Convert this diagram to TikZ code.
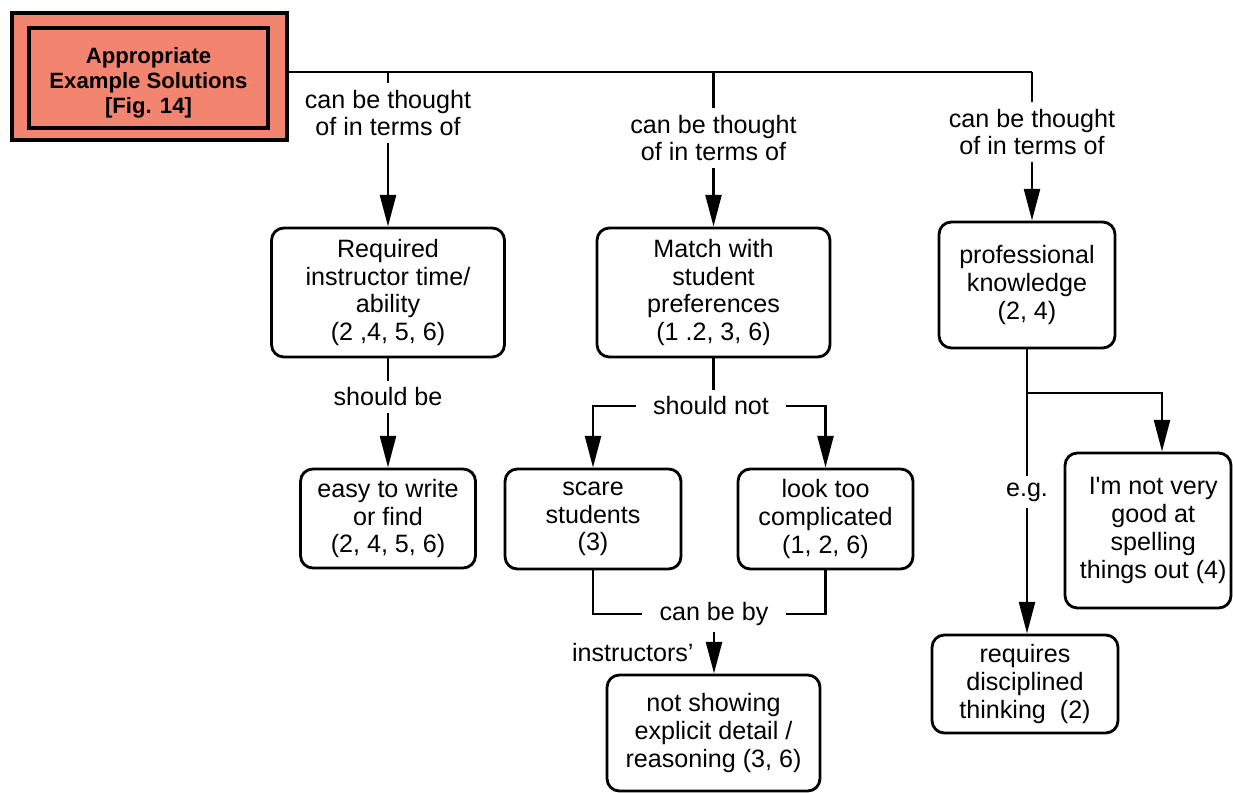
\documentclass[tikz,border=0pt]{standalone}
\usepackage{fontspec}
\setmainfont{Liberation Sans}
\usetikzlibrary{arrows.meta,calc}
\definecolor{salmon}{RGB}{242,132,112}
\begin{document}
\begin{tikzpicture}[x=0.02cm,y=-0.02cm,
  line width=1.6pt,
  box/.style={draw,rounded corners=7pt,align=center,inner sep=0pt,
    font=\fontsize{14.3}{15.8}\selectfont},
  lbl/.style={align=center,inner xsep=9pt,inner ysep=3pt,
    font=\fontsize{14.3}{15.8}\selectfont},
  arr/.style={-{Triangle[length=18pt,width=9pt]}}]
\useasboundingbox (0,0) rectangle (1233,793);

% top concept: double framed box
\node[draw,fill=salmon,line width=2.6pt,minimum width=5.5cm,minimum height=2.54cm,inner sep=0pt]
  (root) at (149.5,76.5) {};
\node[draw,line width=2.2pt,minimum width=4.78cm,minimum height=2.0cm,inner sep=0pt]
  (rootin) at (148.5,78) {};
\node[align=center,inner sep=0pt,font=\fontsize{12.6}{14.2}\selectfont\bfseries]
  (roottxt) at (148.5,83) {Appropriate\\Example Solutions\\{}[Fig. 14]};

% first row of concepts
\node[box,minimum width=4.66cm,minimum height=2.58cm] (req) at (388,292.5)
  {Required\\instructor time/\\ability\\(2 ,4, 5, 6)};
\node[box,minimum width=4.66cm,minimum height=2.58cm] (match) at (713.5,292.5)
  {Match with\\student\\preferences\\(1 .2, 3, 6)};
\node[box,minimum width=3.52cm,minimum height=2.52cm] (prof) at (1027,285)
  {professional\\knowledge\\(2, 4)};

% second row
\node[box,minimum width=3.5cm,minimum height=1.98cm] (easy) at (388,518.5)
  {easy to write\\or find\\(2, 4, 5, 6)};
\node[box,minimum width=3.52cm,minimum height=2.0cm] (scare) at (593,519)
  {scare\\students\\(3)};
\node[box,minimum width=3.5cm,minimum height=2.0cm] (look) at (825.5,519)
  {look too\\complicated\\(1, 2, 6)};
\node[box,minimum width=3.32cm,minimum height=3.1cm] (spell) at (1148,530.5)
  {\hspace*{6pt}I\textquotesingle m not very\\\hspace*{6pt}good at\\\hspace*{6pt}spelling\\\hspace*{6pt}things out (4)};

% third row
\node[box,minimum width=4.26cm,minimum height=2.32cm] (show) at (713.5,733)
  {not showing\\explicit detail /\\reasoning (3, 6)};
\node[box,minimum width=3.72cm,minimum height=1.96cm] (disc) at (1025,684)
  {requires\\disciplined\\thinking\ \ (2)};

% linking phrases
\node[lbl] (t1) at (388,113) {can be thought\\of in terms of};
\node[lbl] (t2) at (713.5,138) {can be thought\\of in terms of};
\node[lbl] (t3) at (1032,132) {can be thought\\of in terms of};
\node[lbl] (sb) at (388,397) {should be};
\node[lbl] (sn) at (711,406) {should not};
\node[lbl] (cb) at (714,614) {can be by};
\node[lbl,anchor=east,inner xsep=4pt] (ins) at (702,653) {instructors'};
\node[lbl] (eg) at (1027,492) {e.g.};

% bus from the top concept
\coordinate (b1) at (388,72);
\coordinate (b2) at (713.5,72);
\coordinate (b3) at (1032,72);
\draw[line width=1.2pt] (root.east |- b1) -- (b3);
\draw (b1) -- (t1.north);
\draw (b2) -- (t2.north);
\draw (b3) -- (t3.north);
\draw[arr] (t1.south) -- (req.north);
\draw[arr] (t2.south) -- (match.north);
\draw[arr] (t3.south) -- (t3.south |- prof.north);

% left branch
\draw (req.south) -- (sb.north);
\draw[arr] (sb.south) -- (easy.north);

% middle branch
\draw (match.south) -- (match.south |- sn.north);
\draw[arr] (sn.west) -| (scare.north);
\draw[arr] (sn.east) -| (look.north);
\draw (scare.south) |- (cb.west);
\draw (look.south) |- (cb.east);
\draw[arr] (cb.south) -- (show.north -| cb.south);

% right branch
\coordinate (fork) at (1027,393);
\draw (prof.south) -- (eg.north);
\draw[arr] (fork) -| ($(spell.north)+(14,0)$);
\draw[arr] (eg.south) -- (disc.north -| eg.south);
\end{tikzpicture}
\end{document}
